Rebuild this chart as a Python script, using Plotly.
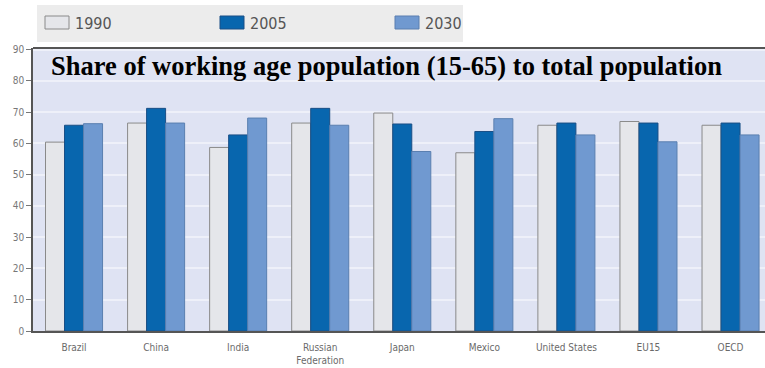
import plotly.graph_objects as go

categories = ["Brazil", "China", "India", "Russian<br>Federation", "Japan", "Mexico",
              "United States", "EU15", "OECD"]
v1990 = [60.4, 66.5, 58.7, 66.5, 69.7, 57.0, 65.8, 67.0, 65.8]
v2005 = [65.8, 71.2, 62.7, 71.2, 66.2, 63.8, 66.5, 66.5, 66.5]
v2030 = [66.3, 66.5, 68.1, 65.8, 57.4, 67.9, 62.7, 60.5, 62.7]
series_names = ["1990", "2005", "2030"]
y_ticks = [0, 10, 20, 30, 40, 50, 60, 70, 80, 90]
title_text = "Share of working age population (15-65) to total population"

fills = ["#e5e6ea", "#0866ae", "#7099d0"]
edges = ["#8a8a8a", "#1a4f86", "#5a7fb0"]

W, H = 765, 368
L, R, T, B = 33, 0, 48, 37
NARROW = "DejaVu Sans Condensed, Liberation Sans Narrow, Arial Narrow, sans-serif"

fig = go.Figure()
for name, vals, fc, ec in zip(series_names, [v1990, v2005, v2030], fills, edges):
    fig.add_trace(go.Bar(x=categories, y=vals, name=name,
                         marker=dict(color=fc, line=dict(color=ec, width=1))))

fig.update_layout(
    width=W, height=H,
    margin=dict(l=L, r=R, t=T, b=B, pad=0),
    paper_bgcolor="white",
    plot_bgcolor="#dfe3f3",
    barmode="group", bargap=0.305, bargroupgap=0,
    showlegend=False,
    font=dict(family=NARROW, color="#777777"),
)
fig.update_xaxes(
    range=[-0.5, 8.42],
    showline=True, linecolor="#555555", linewidth=1.5,
    mirror=False, showgrid=False, ticks="",
    ticklabelstandoff=6,
    tickfont=dict(size=10, color="#6a6a6a"),
)
fig.update_yaxes(
    range=[0, 90.5], tickvals=y_ticks,
    showline=True, linecolor="#555555", linewidth=1.5,
    ticks="outside", ticklen=5, tickcolor="#777777",
    showgrid=True, gridcolor="#eef0f9", gridwidth=1.5,
    tickfont=dict(size=10, color="#777777"),
    zeroline=False,
)
# top border of plot area
fig.add_shape(type="line", xref="paper", yref="paper", x0=0, x1=1, y0=1, y1=1,
              line=dict(color="#555555", width=2))

def px_x(x):
    return (x - L) / (W - L - R)

def px_y(y):
    return 1 - (y - T) / (H - T - B)

# title inside the plot
fig.add_annotation(text="<b>" + title_text + "</b>", xref="paper", yref="paper",
                   x=px_x(49), y=px_y(66),
                   xanchor="left", yanchor="middle", showarrow=False,
                   font=dict(family="Liberation Serif, Times New Roman, serif", size=26.5, color="black"))

# custom legend
fig.add_shape(type="rect", xref="paper", yref="paper",
              x0=px_x(37), x1=px_x(463), y0=px_y(42), y1=px_y(5),
              fillcolor="#ececec", line=dict(width=0), layer="below")
leg_x = [45, 220, 395]
for name, fc, ec, lx in zip(series_names, fills, edges, leg_x):
    fig.add_shape(type="rect", xref="paper", yref="paper",
                  x0=px_x(lx), x1=px_x(lx + 24), y0=px_y(29), y1=px_y(16),
                  fillcolor=fc, line=dict(color=ec, width=1))
    fig.add_annotation(text=name, xref="paper", yref="paper",
                       x=px_x(lx + 28), y=px_y(23), xanchor="left", yanchor="middle",
                       showarrow=False,
                       font=dict(size=16, color="#555555", family=NARROW))

fig.write_html("out.html")
